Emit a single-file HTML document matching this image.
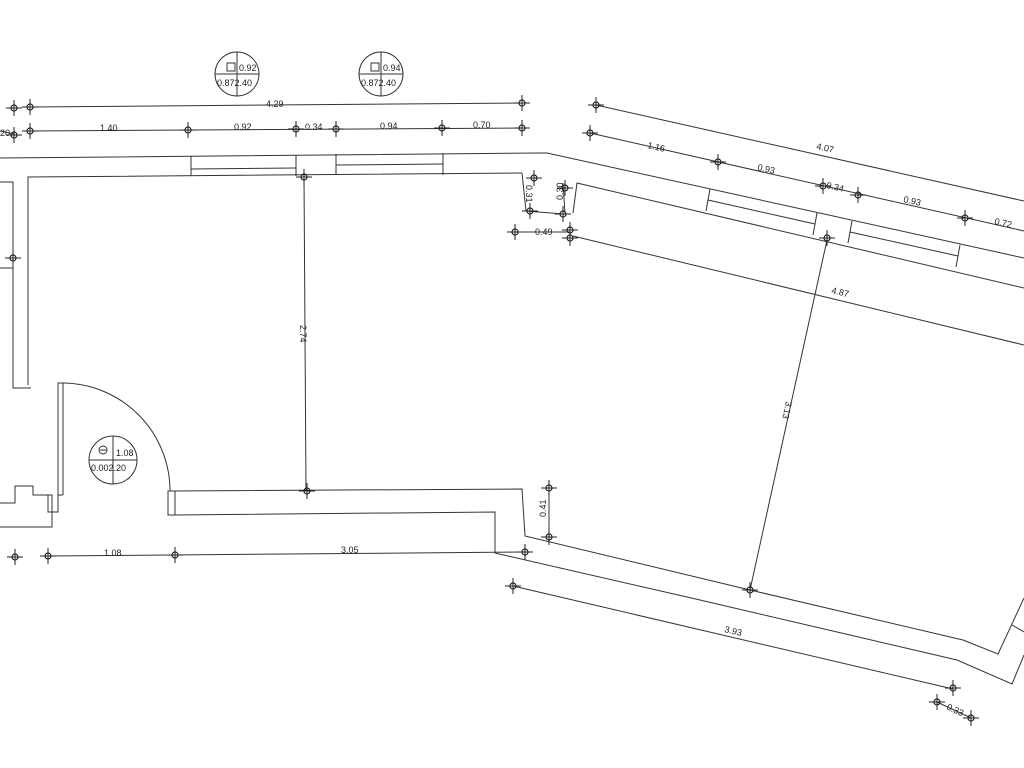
<!DOCTYPE html>
<html><head><meta charset="utf-8"><style>
html,body{margin:0;padding:0;background:#fff;}
svg{display:block}
text{font-family:"Liberation Sans",sans-serif;font-size:9px;fill:#222}
</style></head><body>
<svg width="1024" height="768" viewBox="0 0 1024 768" xmlns="http://www.w3.org/2000/svg">
<defs>
<g id="m"><circle r="3" fill="none" stroke="#222" stroke-width="1.2"/><line x1="-8" y1="0" x2="8" y2="0" stroke="#222"/><line x1="0" y1="-8" x2="0" y2="8" stroke="#222"/></g>
</defs>
<g fill="none" stroke="#333" stroke-width="1">
<!-- top dims left -->
<line x1="30" y1="107" x2="522" y2="103"/>
<line x1="30" y1="131" x2="522" y2="128"/>
<line x1="0" y1="131" x2="14" y2="134"/>
<!-- left room top wall -->
<polyline points="0,158 540,153 547,153 1024,258"/>
<polyline points="28,385 28,177 522,173"/>
<line x1="191" y1="156" x2="191" y2="176"/>
<line x1="296" y1="155" x2="296" y2="176"/>
<line x1="191" y1="169" x2="296" y2="168"/>
<line x1="336" y1="154" x2="336" y2="175"/>
<line x1="443" y1="153" x2="443" y2="175"/>
<line x1="336" y1="165" x2="443" y2="164"/>
<!-- left partitions -->
<polyline points="0,182 13,182 13,388 31,388"/>
<line x1="0" y1="268" x2="13" y2="268"/>
<!-- door -->
<polyline points="63,495 58,495 58,383 63,383 63,495"/>
<path d="M63,383 A108,108 0 0 1 170,491"/>
<rect x="168" y="491" width="7" height="24"/>
<polyline points="0,503 15,503 15,486 33,486 33,495 52,495 52,527 0,527"/>
<polyline points="48,495 48,512 58,512 58,495"/>
<!-- bottom wall -->
<polyline points="175,491 522,489 525,536 750,590 963,640 998,654 1024,598"/>
<polyline points="175,515 495,512 495,553 700,600 957,660 1012,684 1024,655"/>
<line x1="1012" y1="625" x2="1024" y2="632"/>
<!-- 2.74 -->
<line x1="304" y1="177" x2="306" y2="491"/>
<!-- bottom dims -->
<line x1="48" y1="556" x2="525" y2="552"/>
<line x1="549" y1="488" x2="549" y2="537"/>
<line x1="513" y1="586" x2="953" y2="689"/>
<line x1="937" y1="702" x2="971" y2="718"/>
<!-- right room -->
<polyline points="522,173 526,211 563,214"/>
<polyline points="563,183 565,213"/>
<polyline points="573,213 577,183 1024,288"/>
<line x1="515" y1="232" x2="570" y2="232"/>
<line x1="573" y1="236" x2="1024" y2="345"/>
<line x1="827" y1="240" x2="750" y2="590"/>
<!-- right windows -->
<line x1="710" y1="189" x2="706" y2="211"/>
<line x1="817" y1="213" x2="813" y2="235"/>
<line x1="708" y1="200" x2="815" y2="224"/>
<line x1="852" y1="221" x2="848" y2="243"/>
<line x1="960" y1="245" x2="956" y2="267"/>
<line x1="850" y1="232" x2="958" y2="256"/>
<!-- right dims -->
<line x1="596" y1="105" x2="1024" y2="201"/>
<line x1="590" y1="133" x2="1024" y2="231"/>
<!-- tag circles -->
<circle cx="237" cy="74" r="22"/><line x1="215" y1="74" x2="259" y2="74"/><line x1="237" y1="52" x2="237" y2="96"/>
<circle cx="381" cy="74" r="22"/><line x1="359" y1="74" x2="403" y2="74"/><line x1="381" y1="52" x2="381" y2="96"/>
<circle cx="113" cy="460" r="24"/><line x1="89" y1="460" x2="137" y2="460"/><line x1="113" y1="436" x2="113" y2="484"/>
<rect x="227" y="63" width="8" height="8"/><rect x="371" y="63" width="8" height="8"/>
<circle cx="103" cy="450" r="4"/><line x1="100" y1="450" x2="106" y2="450"/>
</g>
<!-- markers -->
<g>
<use href="#m" x="30" y="107"/><use href="#m" x="522" y="103"/>
<use href="#m" x="30" y="131"/><use href="#m" x="188" y="130"/><use href="#m" x="296" y="129"/><use href="#m" x="336" y="129"/><use href="#m" x="442" y="128"/><use href="#m" x="522" y="128"/>
<use href="#m" x="14" y="108"/><use href="#m" x="14" y="135"/>
<use href="#m" x="304" y="177"/><use href="#m" x="13" y="258"/><use href="#m" x="307" y="491"/>
<use href="#m" x="15" y="557"/><use href="#m" x="48" y="556"/><use href="#m" x="175" y="555"/><use href="#m" x="525" y="552"/>
<use href="#m" x="549" y="488"/><use href="#m" x="549" y="537"/>
<use href="#m" x="534" y="178"/><use href="#m" x="530" y="211"/><use href="#m" x="565" y="188"/><use href="#m" x="563" y="214"/>
<use href="#m" x="515" y="232"/><use href="#m" x="570" y="230"/><use href="#m" x="570" y="238"/>
<use href="#m" x="596" y="105"/><use href="#m" x="590" y="133"/><use href="#m" x="718" y="162"/><use href="#m" x="823" y="186"/><use href="#m" x="858" y="195"/><use href="#m" x="965" y="218"/>
<use href="#m" x="827" y="238"/><use href="#m" x="750" y="590"/>
<use href="#m" x="513" y="586"/><use href="#m" x="953" y="688"/><use href="#m" x="937" y="702"/><use href="#m" x="971" y="718"/>
</g>
<!-- texts -->
<text x="266" y="107">4.29</text>
<text x="100" y="131">1.40</text>
<text x="234" y="130">0.92</text>
<text x="305" y="130">0.34</text>
<text x="380" y="129">0.94</text>
<text x="473" y="128">0.70</text>
<text x="0" y="136">20</text>
<text x="239" y="71" font-size="10">0.92</text>
<text x="217" y="86" font-size="10">0.872.40</text>
<text x="383" y="71" font-size="10">0.94</text>
<text x="361" y="86" font-size="10">0.872.40</text>
<text x="116" y="456" font-size="11">1.08</text>
<text x="91" y="471" font-size="10">0.002.20</text>
<text x="104" y="556">1.08</text>
<text x="341" y="553">3.05</text>
<text x="535" y="235">0.49</text>
<text transform="translate(300,325) rotate(90)">2.74</text>
<text transform="translate(546,517) rotate(-90)">0.41</text>
<text transform="translate(526,185) rotate(90)">0.31</text>
<text transform="translate(563,200) rotate(-90)">0.30</text>
<text transform="translate(786,401) rotate(102)">3.13</text>
<text transform="translate(647,148) rotate(12.7)">1.16</text>
<text transform="translate(816,149) rotate(12.7)">4.07</text>
<text transform="translate(757,170) rotate(12.7)">0.93</text>
<text transform="translate(826,188) rotate(12.7)">0.34</text>
<text transform="translate(903,202) rotate(12.7)">0.93</text>
<text transform="translate(994,224) rotate(12.7)">0.72</text>
<text transform="translate(831,293) rotate(13.7)">4.87</text>
<text transform="translate(724,632) rotate(13)">3.93</text>
<text transform="translate(946,709) rotate(25)">0.33</text>
</svg>
</body></html>
